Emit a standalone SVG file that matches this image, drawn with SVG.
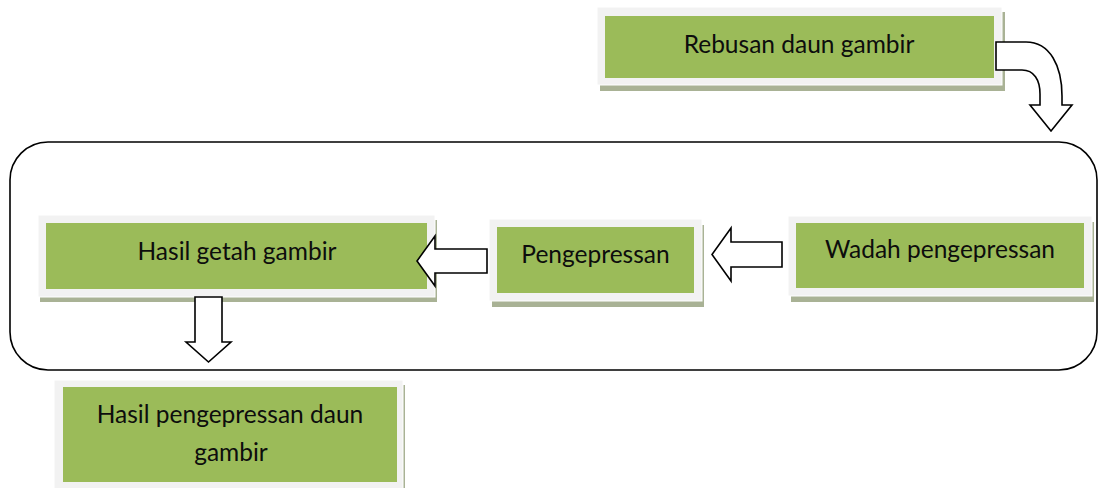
<svg xmlns="http://www.w3.org/2000/svg" width="1099" height="488" viewBox="0 0 1099 488">
  <style>
    .shadow { fill: #a9b295; }
    .frame { fill: #f2f2f2; stroke: #ffffff; stroke-width: 1; }
    .box { fill: #9bbb59; }
    .label { font-family: Lato, "Liberation Sans", sans-serif; font-size: 24.5px; fill: #0d0d0d; text-anchor: middle; }
    .arrow { fill: #ffffff; stroke: #000000; stroke-width: 1.6; stroke-linejoin: miter; }
    .container { fill: none; stroke: #000000; stroke-width: 1.6; }
  </style>
  <rect width="1099" height="488" fill="#ffffff"/>

  <rect id="container" class="container" x="10" y="142" width="1087" height="228" rx="38" ry="38"/>

  <g id="node-rebusan">
    <rect class="shadow" x="600" y="12" width="405" height="79"/>
    <rect class="frame" x="597" y="7" width="405" height="78"/>
    <rect class="box" x="605" y="16" width="389" height="62"/>
    <text class="label" x="799" y="53">Rebusan daun gambir</text>
  </g>

  <g id="node-hasil-getah">
    <rect class="shadow" x="40" y="220" width="397" height="82"/>
    <rect class="frame" x="38" y="215" width="397" height="82"/>
    <rect class="box" x="46" y="223" width="381" height="66"/>
    <text class="label" x="237" y="260">Hasil getah gambir</text>
  </g>

  <g id="node-pengepressan">
    <rect class="shadow" x="492" y="225" width="212" height="82"/>
    <rect class="frame" x="489" y="219" width="213" height="82"/>
    <rect class="box" x="497" y="227" width="197" height="66"/>
    <text class="label" x="595.5" y="263">Pengepressan</text>
  </g>

  <g id="node-wadah">
    <rect class="shadow" x="791" y="222" width="303" height="80"/>
    <rect class="frame" x="788" y="216" width="304" height="80"/>
    <rect class="box" x="796" y="223" width="288" height="65"/>
    <text class="label" x="940" y="258">Wadah pengepressan</text>
  </g>

  <g id="node-hasil-pengepressan">
    <rect class="shadow" x="57" y="385" width="348" height="110"/>
    <rect class="frame" x="54" y="380" width="349" height="110"/>
    <rect class="box" x="63" y="387" width="334" height="95"/>
    <text class="label" x="230" y="423">Hasil pengepressan daun</text>
    <text class="label" x="231" y="461">gambir</text>
  </g>

  <g id="connectors">
    <path class="arrow" d="M996,42 L1026,42 C1050,42 1062,66 1062,96 L1062,105 L1072,105 L1051,131 L1030,105 L1040,105 L1040,94 C1040,80 1034,70 1022,70 L996,70 Z"/>
    <path class="arrow" d="M782,242 L731,242 L731,228 L712,254.5 L731,281 L731,267 L782,267 Z"/>
    <path class="arrow" d="M487,249 L435,249 L435,236 L417,261 L435,286 L435,273 L487,273 Z"/>
    <path class="arrow" d="M195,297 L222,297 L222,342 L231,342 L208.5,362 L186,342 L195,342 Z"/>
  </g>
</svg>
